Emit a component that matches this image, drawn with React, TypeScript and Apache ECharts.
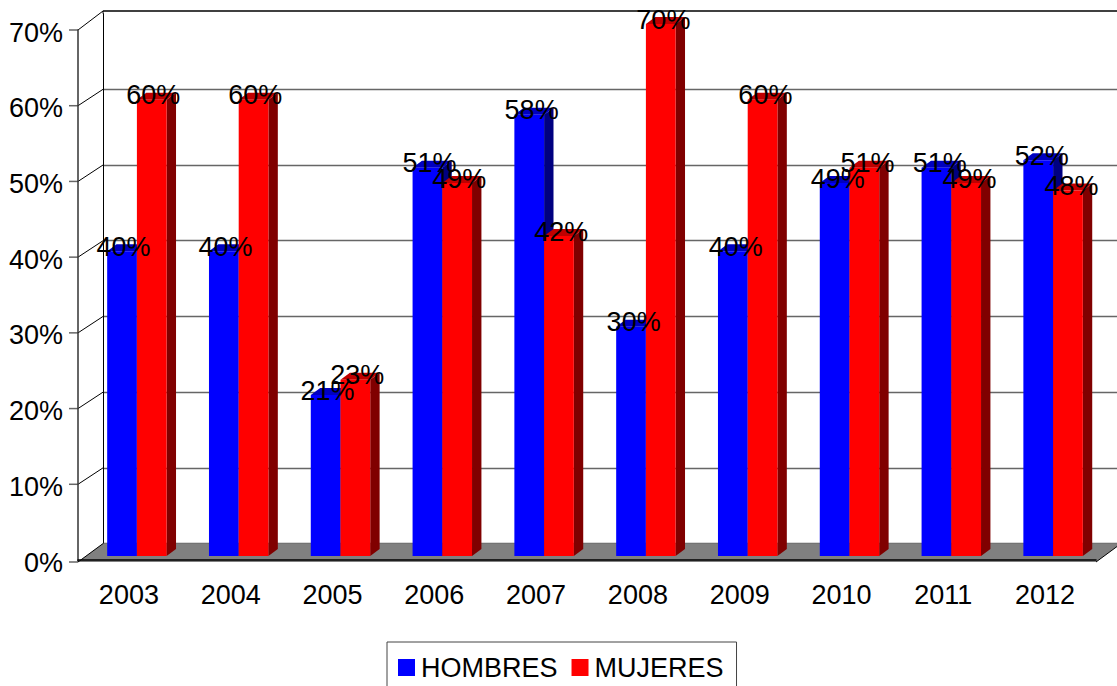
import React, { useEffect, useRef } from "react";
import * as echarts from "echarts";

const years = ["2003", "2004", "2005", "2006", "2007", "2008", "2009", "2010", "2011", "2012"];
const hombres = [40, 40, 21, 51, 58, 30, 40, 49, 51, 52];
const mujeres = [60, 60, 23, 49, 42, 70, 60, 51, 49, 48];
const percentTicks = [0, 10, 20, 30, 40, 50, 60, 70];

const FONT = '"Liberation Sans", Arial, sans-serif';
const WALL_DX = 25;
const WALL_DY = 16.4;
const FRONT_EXTRA = 2;
const BACK_EXTRA = 2.6;
const TICK_LEN = 9;
const BAR_DX = 8;
const BAR_DY = 6;
const SIDE_DX = 9.4;
const SIDE_DY = 7;
const BAR_SHARE = 0.292;
const FONT_SIZE = 27;

const poly = (points: number[][], fill: string) => ({
  type: "polygon",
  silent: true,
  shape: { points },
  style: { fill, stroke: null },
});

const seg = (x1: number, y1: number, x2: number, y2: number, stroke: string, lineWidth: number) => ({
  type: "line",
  silent: true,
  shape: { x1, y1, x2, y2 },
  style: { stroke, lineWidth },
});

const barRenderer = (offset: number, front: string, side: string, top: string) => (_p: any, api: any) => {
  const [cx, y] = api.coord([api.value(0), api.value(1)]);
  const [, y0] = api.coord([api.value(0), 0]);
  const w = api.size([1, 0])[0] * BAR_SHARE;
  const l = cx + BAR_DX + offset * w;
  const r = l + w;
  const t = y - BAR_DY;
  const b = y0 + FRONT_EXTRA - BAR_DY;
  return {
    type: "group",
    silent: true,
    children: [
      poly([[r, b], [r + SIDE_DX, b - SIDE_DY], [r + SIDE_DX, t - SIDE_DY], [r, t]], side),
      poly([[l, t], [r, t], [r + SIDE_DX, t - SIDE_DY], [l + SIDE_DX, t - SIDE_DY]], top),
      poly([[l, t], [r, t], [r, b], [l, b]], front),
    ],
  };
};

const labelRenderer = (offset: number) => (_p: any, api: any) => {
  const i = api.value(0);
  const [cx, y] = api.coord([i, api.value(1)]);
  const w = api.size([1, 0])[0] * BAR_SHARE;
  return {
    type: "text",
    silent: true,
    style: {
      text: api.value(1) + "%",
      x: cx + BAR_DX + offset * w + w / 2 + 1.5 + (2 * i) / (years.length - 1),
      y: y - BAR_DY - 4.5,
      align: "center",
      verticalAlign: "middle",
      fontSize: FONT_SIZE,
      fontFamily: FONT,
      fill: "#000",
    },
  };
};

const floorRenderer = (p: any) => {
  const { x, y, width, height } = p.coordSys;
  const b = y + height;
  const front = b + FRONT_EXTRA;
  const back = b - WALL_DY;
  const top = y - WALL_DY - BACK_EXTRA;
  return {
    type: "group",
    silent: true,
    children: [
      poly([[x, front], [x + WALL_DX, back], [x + width + WALL_DX, back], [x + width, front]], "#808080"),
      seg(x + width, front, x + width + WALL_DX, back, "#000", 1),
      seg(x, b, x, front, "#333", 1.5),
      seg(x + WALL_DX, top, x + WALL_DX, y - WALL_DY, "#000", 1),
      seg(x + WALL_DX, top, x + width + WALL_DX, top, "#000", 1.3),
    ],
  };
};

const diagonalRenderer = (p: any, api: any) => {
  const v = api.value(1);
  const y = api.coord([0, v])[1];
  const x = p.coordSys.x;
  const y1 = v === 0 ? y + FRONT_EXTRA : y;
  const y2 = v === percentTicks[percentTicks.length - 1] ? y - WALL_DY - BACK_EXTRA : y - WALL_DY;
  return {
    type: "group",
    silent: true,
    children: [
      seg(x, y1, x + WALL_DX, y2, "#000", 1),
      seg(x - TICK_LEN, y1, x, y1, "#666", 1.5),
    ],
  };
};

const pairs = (values: number[]) => values.map((v, i) => [i, v]);

export default function App() {
  const ref = useRef<HTMLDivElement>(null);
  useEffect(() => {
    document.body.style.margin = "0";
    const chart = echarts.init(ref.current!, undefined, { renderer: "svg" });
    chart.setOption({
      animation: false,
      backgroundColor: "#fff",
      textStyle: { fontFamily: FONT },
      legend: {
        data: ["HOMBRES", "MUJERES"],
        left: 387,
        top: 642,
        padding: [12, 13, 40, 11],
        itemWidth: 17,
        itemHeight: 17,
        itemGap: 14,
        icon: "rect",
        borderColor: "#444",
        borderWidth: 1,
        selectedMode: false,
        textStyle: { fontSize: FONT_SIZE, color: "#000", fontFamily: FONT, padding: [0, 0, 3, 1] },
      },
      grid: [
        { left: 78, top: 30, width: 1018, height: 530 },
        { left: 103, top: 13.6, width: 1018, height: 530 },
      ],
      xAxis: [
        {
          type: "category",
          gridIndex: 0,
          data: years,
          offset: FRONT_EXTRA,
          z: 6,
          axisLine: { lineStyle: { color: "#000", width: 1.5 } },
          axisTick: { length: TICK_LEN, lineStyle: { color: "#808080", width: 1.5 } },
          axisLabel: { fontSize: FONT_SIZE, color: "#000", margin: 19, fontFamily: FONT },
        },
        {
          type: "category",
          gridIndex: 1,
          data: years,
          position: "top",
          axisLine: { show: false },
          axisTick: { show: false },
          axisLabel: { show: false },
        },
      ],
      yAxis: [
        {
          type: "value",
          gridIndex: 0,
          min: 0,
          max: 70,
          interval: 10,
          z: 6,
          axisLine: { show: true, lineStyle: { color: "#333", width: 1.5 } },
          axisTick: { show: false },
          axisLabel: {
            fontSize: FONT_SIZE,
            color: "#000",
            margin: 15,
            fontFamily: FONT,
            formatter: "{value}%",
            verticalAlign: "top",
            lineHeight: 5,
          },
          splitLine: { show: false },
        },
        {
          type: "value",
          gridIndex: 1,
          min: 0,
          max: 70,
          interval: 10,
          axisLine: { show: true, lineStyle: { color: "#000", width: 1 } },
          axisTick: { show: false },
          axisLabel: { show: false },
          splitLine: { show: true, showMaxLine: false, lineStyle: { color: "#666", width: 1.3 } },
        },
      ],
      series: [
        {
          type: "custom",
          name: "floor",
          data: [[0, 0]],
          z: 2,
          renderItem: floorRenderer,
          silent: true,
        },
        {
          type: "custom",
          name: "diagonals",
          data: percentTicks.map((v) => [0, v]),
          z: 3,
          renderItem: diagonalRenderer,
          silent: true,
        },
        {
          type: "custom",
          name: "HOMBRES",
          data: pairs(hombres),
          z: 4,
          itemStyle: { color: "#0000ff" },
          renderItem: barRenderer(-1, "#0000ff", "#000080", "#0000c0"),
          silent: true,
        },
        {
          type: "custom",
          name: "MUJERES",
          data: pairs(mujeres),
          z: 5,
          itemStyle: { color: "#ff0000" },
          renderItem: barRenderer(0, "#ff0000", "#800000", "#c00000"),
          silent: true,
        },
        {
          type: "custom",
          name: "etiquetas hombres",
          data: pairs(hombres),
          z: 7,
          renderItem: labelRenderer(-1),
          silent: true,
        },
        {
          type: "custom",
          name: "etiquetas mujeres",
          data: pairs(mujeres),
          z: 8,
          renderItem: labelRenderer(0),
          silent: true,
        },
      ],
    });
    return () => chart.dispose();
  }, []);
  return <div ref={ref} style={{ width: 1117, height: 686, position: "absolute", left: 0, top: 0, overflow: "hidden" }} />;
}
